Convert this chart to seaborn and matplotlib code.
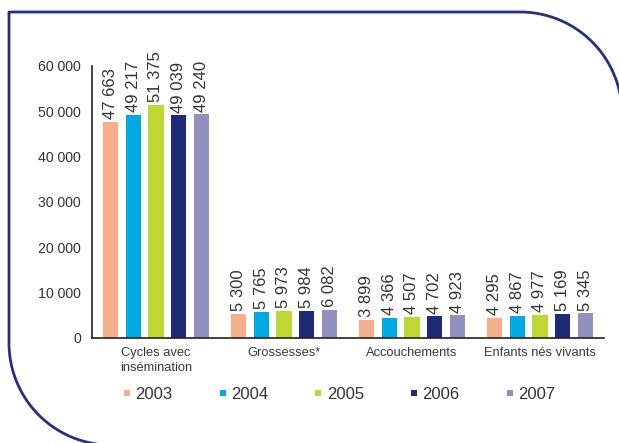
import matplotlib.pyplot as plt
import matplotlib.lines as mlines
import numpy as np
import pandas as pd
import seaborn as sns

# Données
categories = ["Cycles avec\ninsémination", "Grossesses*", "Accouchements", "Enfants nés vivants"]
annees = ["2003", "2004", "2005", "2006", "2007"]
v2003 = [47663, 5300, 3899, 4295]
v2004 = [49217, 5765, 4366, 4867]
v2005 = [51375, 5973, 4507, 4977]
v2006 = [49039, 5984, 4702, 5169]
v2007 = [49240, 6082, 4923, 5345]
yticks = [0, 10000, 20000, 30000, 40000, 50000, 60000]

CORES = ["#F8AE8C", "#00A9E1", "#C0D634", "#1E2A7A", "#9190BF"]
NAVY = "#25307F"
TXT = "#333333"

sns.set_theme(style="white")
plt.rcParams["font.family"] = ["Liberation Sans", "DejaVu Sans"]

df = pd.DataFrame({
    "categorie": categories * 5,
    "annee": [a for a in annees for _ in categories],
    "valeur": v2003 + v2004 + v2005 + v2006 + v2007,
})


def fmt_fr(v):
    return f"{int(v):,}".replace(",", " ")


W, H = 619, 443
fig = plt.figure(figsize=(W / 100, H / 100), dpi=100)

# cadre arrondi (décoratif), en pixels
deco = fig.add_axes([0, 0, 1, 1], zorder=0)
deco.set_xlim(0, W)
deco.set_ylim(H, 0)
deco.axis("off")
R = 102
x0, y0, x1, y1 = 9, 12, 622, 445
t = np.linspace(-np.pi / 2, 0, 60)
top_right = np.column_stack([x1 - R + R * np.cos(t), y0 + R + R * np.sin(t)])
t2 = np.linspace(np.pi / 2, np.pi, 60)
bot_left = np.column_stack([x0 + R + R * np.cos(t2), y1 - R + R * np.sin(t2)])
path = np.vstack([bot_left, [[x0, y0]], top_right])
deco.plot(path[:, 0], path[:, 1], color=NAVY, lw=2, solid_capstyle="butt")

ax = fig.add_axes([92 / W, (H - 337.7) / H, (604 - 92) / W, (337.7 - 65.7) / H], zorder=1)
ax.patch.set_alpha(0)

sns.barplot(
    data=df, x="categorie", y="valeur", hue="annee",
    palette=CORES, width=0.88, gap=0.33, ax=ax, legend=False,
    linewidth=0, saturation=1,
)

for cont in ax.containers:
    ax.bar_label(
        cont, labels=[fmt_fr(b.get_height()) for b in cont],
        rotation=90, padding=2, fontsize=12, color=TXT,
    )

ax.set_ylim(0, 60000)
ax.set_xlim(-0.5, 3.5)
ax.set_yticks(yticks)
ax.set_yticklabels([fmt_fr(v) for v in yticks], fontsize=10.2, color=TXT)
ax.set_xticks(range(len(categories)))
ax.set_xticklabels(categories, fontsize=9.3, color="#3a3a3a", linespacing=1.3)
ax.set_xticks([0.5, 1.5, 2.5, 3.5], minor=True)
ax.tick_params(axis="x", which="major", length=0, pad=7)
ax.tick_params(axis="x", which="minor", direction="in", length=6, width=1, color="#222222")
ax.tick_params(axis="y", direction="out", length=6, width=1, color="#222222", pad=2)
ax.set_xlabel("")
ax.set_ylabel("")
for s in ["top", "right"]:
    ax.spines[s].set_visible(False)
for s in ["left", "bottom"]:
    ax.spines[s].set_color("#222222")
    ax.spines[s].set_linewidth(1.2)

handles = [
    mlines.Line2D([], [], marker="s", linestyle="none", markersize=4.3,
                  markerfacecolor=c, markeredgewidth=0, label=a)
    for a, c in zip(annees, CORES)
]
fig.legend(
    handles=handles, loc="center left", bbox_to_anchor=(121.8 / W, (H - 394.5) / H),
    ncol=5, frameon=False, fontsize=12, handlelength=0.6, handletextpad=0.2,
    columnspacing=2.72, borderpad=0, borderaxespad=0, labelcolor=TXT,
)

fig.savefig("out.png", dpi=100)
